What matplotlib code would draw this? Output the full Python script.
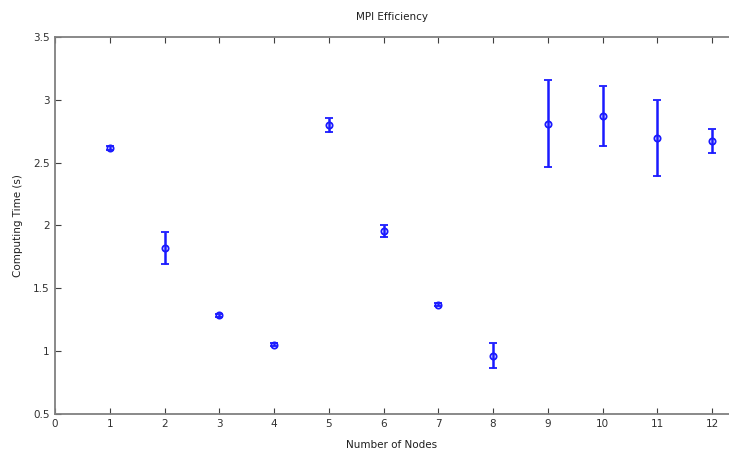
import matplotlib.pyplot as plt

nodes = [1, 2, 3, 4, 5, 6, 7, 8, 9, 10, 11, 12]
time_mean = [2.616, 1.818, 1.283, 1.050, 2.799, 1.952, 1.368, 0.960, 2.810, 2.868, 2.696, 2.670]
time_err = [0.015, 0.126, 0.012, 0.010, 0.053, 0.047, 0.010, 0.100, 0.344, 0.240, 0.306, 0.096]

plt.rcParams['font.family'] = ['DejaVu Sans']
plt.rcParams['font.size'] = 7.5

fig = plt.figure(figsize=(7.29, 4.5), dpi=100)
ax = fig.add_axes([55 / 729, 1 - 413.7 / 450, 674 / 729, (413.7 - 37) / 450])

ax.errorbar(nodes, time_mean, yerr=time_err, fmt='o', color=(0.1, 0.1, 1.0),
            mfc='none', mec=(0.1, 0.1, 1.0), ms=4.5, mew=1.3,
            elinewidth=1.8, capsize=3, capthick=1.5)

ax.set_xlim(0, 12.31)
ax.set_ylim(0.5, 3.5)
ax.set_xticks(range(0, 13))
ax.set_yticks([0.5, 1, 1.5, 2, 2.5, 3, 3.5])
ax.set_yticklabels(['0.5', '1', '1.5', '2', '2.5', '3', '3.5'])

for side in ['left', 'bottom', 'top']:
    ax.spines[side].set_color('#808080')
    ax.spines[side].set_linewidth(1.3)
ax.spines['right'].set_visible(False)
ax.tick_params(direction='in', length=4, width=0.8, color='#404040',
               top=True, right=False, labelcolor='#303030', pad=4)

ax.set_title('MPI Efficiency', fontsize=7.5, color='#202020', pad=12)
ax.set_xlabel('Number of Nodes', fontsize=7.5, color='#202020', labelpad=8)
ax.set_ylabel('Computing Time (s)', fontsize=7.5, color='#202020', labelpad=7)

fig.savefig('out.png', dpi=100)
